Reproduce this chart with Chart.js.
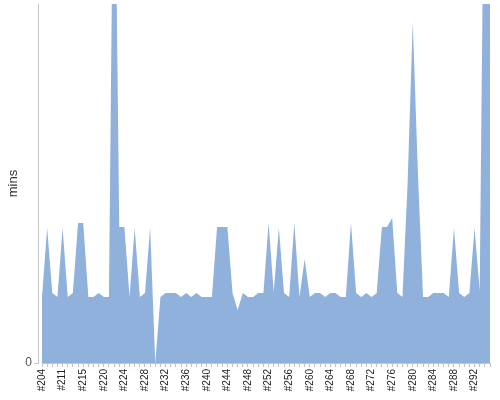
<!DOCTYPE html>
<html>
<head>
<meta charset="utf-8">
<script src="https://cdn.jsdelivr.net/npm/chart.js@4.4.1/dist/chart.umd.min.js"></script>
<style>
html,body{margin:0;padding:0;background:#fff;}
#wrap{width:500px;height:400px;position:relative;}
</style>
</head>
<body>
<div id="wrap"><canvas id="c" width="500" height="400"></canvas></div>
<script>
// Build labels (x categories)
const builds = [
  '#204','#206','#208','#210','#211','#212','#213','#214','#215','#216','#217','#218',
  '#220','#221','#222','#223','#224','#225','#226','#227','#228','#229','#230','#231',
  '#232','#233','#234','#235','#236','#237','#238','#239','#240','#241','#242','#243',
  '#244','#245','#246','#247','#248','#249','#250','#251','#252','#253','#254','#255',
  '#256','#257','#258','#259','#260','#261','#262','#263','#264','#265','#266','#267',
  '#268','#269','#270','#271','#272','#273','#274','#275','#276','#277','#278','#279',
  '#280','#281','#282','#283','#284','#285','#286','#287','#288','#289','#290','#291',
  '#292','#293','#294','#295'
];
// Build duration in minutes
const mins = [
  6.6,13.5,7.0,6.6,13.5,6.6,7.0,14.0,14.0,6.6,6.6,7.0,
  6.6,6.6,60.0,13.6,13.6,6.6,13.5,6.6,7.0,13.5,0.0,6.6,
  7.0,7.0,7.0,6.6,7.0,6.6,7.0,6.6,6.6,6.6,13.6,13.6,
  13.6,7.0,5.3,7.0,6.6,6.6,7.0,7.0,14.0,7.1,13.5,7.0,
  6.6,14.0,6.6,10.4,6.6,7.0,7.0,6.6,7.0,7.0,6.6,6.6,
  14.0,7.0,6.6,7.0,6.6,7.0,13.6,13.6,14.5,7.0,6.6,18.0,
  34.1,19.0,6.6,6.6,7.0,7.0,7.0,6.6,13.5,7.0,6.6,7.0,
  13.5,7.2,60.0,60.0
];
const yTickValues = [0];
const yMax = 35.9;
const labelEvery = 4;

const axisLines = {
  id: 'axisLines',
  afterDraw(chart) {
    const {ctx, chartArea} = chart;
    const x = chartArea.left - 3.5;
    ctx.save();
    ctx.strokeStyle = '#c4c4c4';
    ctx.lineWidth = 1;
    ctx.beginPath();
    ctx.moveTo(x, chartArea.top);
    ctx.lineTo(x, chartArea.bottom + 1);
    ctx.moveTo(x - 4, chartArea.bottom + 0.5);
    ctx.lineTo(x, chartArea.bottom + 0.5);
    ctx.stroke();
    ctx.restore();
  }
};

new Chart(document.getElementById('c'), {
  type: 'line',
  data: {
    labels: builds,
    datasets: [{
      data: mins,
      fill: 'origin',
      backgroundColor: '#8fb1db',
      borderWidth: 0,
      borderColor: 'rgba(0,0,0,0)',
      pointRadius: 0,
      tension: 0
    }]
  },
  plugins: [axisLines],
  options: {
    responsive: false,
    animation: false,
    devicePixelRatio: 1,
    layout: { padding: { top: 4, right: 10, left: 0, bottom: 0 } },
    plugins: { legend: { display: false }, tooltip: { enabled: false } },
    scales: {
      x: {
        type: 'category',
        offset: false,
        afterFit(s) { s.height = 37; s.paddingLeft = 0; s.paddingRight = 0; },
        border: { display: true, color: '#c4c4c4' },
        grid: { display: true, drawOnChartArea: false, drawTicks: true, tickLength: 4, color: '#c4c4c4' },
        ticks: {
          autoSkip: false,
          maxRotation: 90,
          minRotation: 90,
          padding: 2,
          color: '#222',
          font: { family: 'Liberation Sans, Arial, sans-serif', size: 10 },
          callback(v, i) { return i % labelEvery === 0 ? builds[i] : ''; }
        }
      },
      y: {
        min: 0,
        max: yMax,
        afterFit(s) { s.width = 42; s.paddingTop = 0; s.paddingBottom = 0; },
        afterBuildTicks(s) { s.ticks = yTickValues.map(v => ({ value: v })); },
        border: { display: false },
        grid: { display: false },
        ticks: {
          padding: 2,
          color: '#555',
          font: { family: 'Liberation Sans, Arial, sans-serif', size: 12 }
        },
        title: {
          display: true,
          text: 'mins',
          color: '#333',
          padding: { top: 6, bottom: 0 },
          font: { family: 'Liberation Sans, Arial, sans-serif', size: 13 }
        }
      }
    }
  }
});
</script>
</body>
</html>
